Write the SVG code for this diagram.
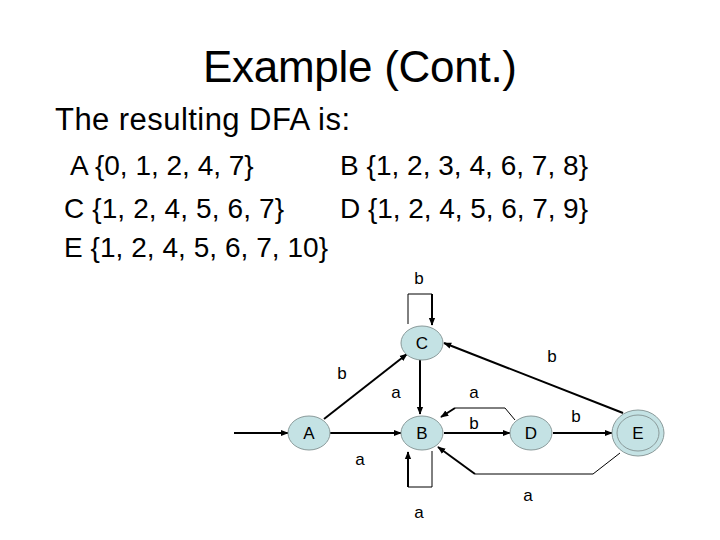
<svg xmlns="http://www.w3.org/2000/svg" width="720" height="540" viewBox="0 0 720 540">
<defs>
<marker id="ar" viewBox="0 0 10 10" refX="9" refY="5" markerWidth="4" markerHeight="4" orient="auto"><path d="M0,1 L10,5 L0,9 z" fill="#000"/></marker>
<style>
.t{font-family:"Liberation Sans",Arial,sans-serif;fill:#000}
.n{fill:#C4E2E4;stroke:#8a9a9a;stroke-width:1}
.e{stroke:#000;stroke-width:2;fill:none;marker-end:url(#ar)}
.th{stroke:#000;stroke-width:1;fill:none}
.l{font-family:"Liberation Sans",Arial,sans-serif;font-size:17px;text-anchor:middle}
</style>
</defs>
<rect width="720" height="540" fill="#fff"/>
<text class="t" x="203" y="82" font-size="44" textLength="314">Example (Cont.)</text>
<text class="t" x="55" y="130" font-size="31" textLength="295">The resulting DFA is:</text>
<text class="t" x="70" y="175" font-size="28">A {0, 1, 2, 4, 7}</text>
<text class="t" x="340" y="175" font-size="28" textLength="248">B {1, 2, 3, 4, 6, 7, 8}</text>
<text class="t" x="64" y="218" font-size="28" textLength="220">C {1, 2, 4, 5, 6, 7}</text>
<text class="t" x="340" y="218" font-size="28" textLength="248">D {1, 2, 4, 5, 6, 7, 9}</text>
<text class="t" x="64" y="257" font-size="28" textLength="264">E {1, 2, 4, 5, 6, 7, 10}</text>
<g id="connectors">
<path class="e" d="M234,433 H288"/>
<path class="th" d="M408,324 V294 H432"/><path class="e" d="M432,294 V325"/>
<path class="th" d="M432,451 V487 H408"/><path class="e" d="M408,487 V452"/>
<path class="e" d="M330,433 H401"/>
<path class="e" d="M324,419 L407,354"/>
<path class="e" d="M420,360 V414"/>
<path class="e" d="M444,433 H510"/>
<path class="e" d="M553,433 H612"/>
<path class="th" d="M515,420 L505,408 H455"/><path class="e" d="M455,408 L441,417"/>
<path class="e" d="M623,413 L444,343"/>
<path class="th" d="M620,453 L593,474 H475"/><path class="e" d="M475,474 L438,447"/>
<text class="l" x="419" y="284">b</text>
<text class="l" x="552" y="362">b</text>
<text class="l" x="342" y="379">b</text>
<text class="l" x="396" y="398">a</text>
<text class="l" x="474" y="398">a</text>
<text class="l" x="474" y="429">b</text>
<text class="l" x="576" y="422">b</text>
<text class="l" x="360" y="465">a</text>
<text class="l" x="528" y="501">a</text>
<text class="l" x="419" y="518">a</text>
</g>
<g id="A"><ellipse class="n" cx="309" cy="433" rx="21" ry="17"/><text class="l" x="309" y="439">A</text></g>
<g id="B"><ellipse class="n" cx="422" cy="433" rx="21" ry="17"/><text class="l" x="422" y="439">B</text></g>
<g id="C"><ellipse class="n" cx="422" cy="343" rx="21" ry="17"/><text class="l" x="422" y="349">C</text></g>
<g id="D"><ellipse class="n" cx="531" cy="433" rx="21" ry="17"/><text class="l" x="531" y="439">D</text></g>
<g id="E"><ellipse class="n" cx="638" cy="433" rx="26" ry="23"/><ellipse class="n" cx="638" cy="433" rx="21" ry="18"/><text class="l" x="638" y="439">E</text></g>
</svg>
